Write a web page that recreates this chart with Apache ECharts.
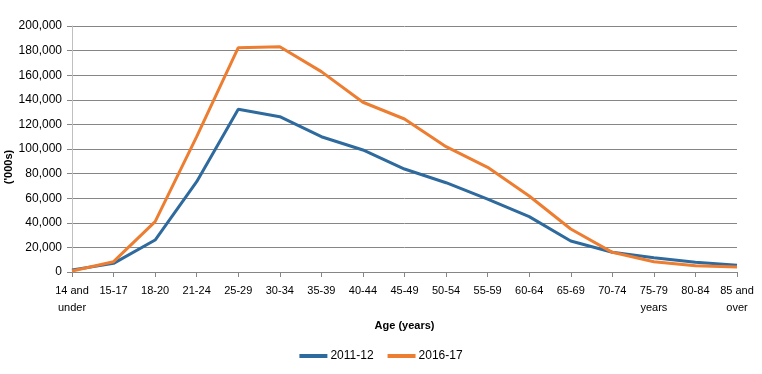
<!DOCTYPE html>
<html><head><meta charset="utf-8">
<script src="https://cdn.jsdelivr.net/npm/echarts@6/dist/echarts.min.js"></script>
<style>html,body{margin:0;padding:0;background:#fff}#c{width:762px;height:374px}</style>
</head><body><div id="c"></div>
<script>
var categories = ['14 and\nunder','15-17','18-20','21-24','25-29','30-34','35-39','40-44','45-49','50-54','55-59','60-64','65-69','70-74','75-79\nyears','80-84','85 and\nover'];
var series2011 = [1600,7000,26000,73400,132300,126300,110000,99200,83700,72600,59300,45000,25200,16000,11600,7900,5400];
var series2016 = [800,8400,40900,110000,182400,183200,162900,138000,124400,101900,85100,61800,35000,16000,8400,5100,4000];
var yTicks = [0,20000,40000,60000,80000,100000,120000,140000,160000,180000,200000];
var FONT = 'Liberation Sans';
var chart = echarts.init(document.getElementById('c'));
chart.setOption({
  animation:false,
  textStyle:{fontFamily:FONT},
  grid:{left:72,right:25,top:26,bottom:102,containLabel:false},
  graphic:[{
    type:'text',x:9,y:167,rotation:Math.PI/2,
    style:{text:"('000s)",font:'bold 11px "Liberation Sans"',fill:'#000',align:'center',verticalAlign:'middle'}
  }],
  legend:{
    data:['2011-12','2016-17'],top:345,left:'center',
    itemWidth:28,itemHeight:4,itemGap:14,
    icon:'rect',
    textStyle:{fontFamily:FONT,fontSize:12,color:'#000',padding:[0,0,0,-2]}
  },
  xAxis:{
    type:'category',data:categories,boundaryGap:false,
    name:'Age (years)',nameLocation:'middle',nameGap:48,
    nameTextStyle:{fontFamily:FONT,fontSize:11,fontWeight:'bold',color:'#000'},
    axisLine:{lineStyle:{color:'#868686',width:1}},
    axisTick:{show:true,length:5,alignWithLabel:true,lineStyle:{color:'#868686'}},
    axisLabel:{interval:0,color:'#000',fontSize:11,fontFamily:FONT,lineHeight:17,margin:10},
    splitLine:{show:false}
  },
  yAxis:{
    type:'value',min:0,max:200000,interval:20000,
    axisLine:{show:true,lineStyle:{color:'#bfbfbf'}},
    axisTick:{show:true,length:5,lineStyle:{color:'#868686'}},
    axisLabel:{color:'#000',fontSize:12,fontFamily:FONT,margin:10,
      formatter:function(v){return yTicks.indexOf(v)>=0?v.toLocaleString('en-US'):'';}},
    splitLine:{lineStyle:{color:'#868686',width:1}}
  },
  series:[
    {name:'2011-12',type:'line',data:series2011,symbol:'none',lineStyle:{width:3,color:'#2E6A9E'},itemStyle:{color:'#2E6A9E'}},
    {name:'2016-17',type:'line',data:series2016,symbol:'none',lineStyle:{width:3,color:'#ED7D31'},itemStyle:{color:'#ED7D31'}}
  ]
});
</script></body></html>
